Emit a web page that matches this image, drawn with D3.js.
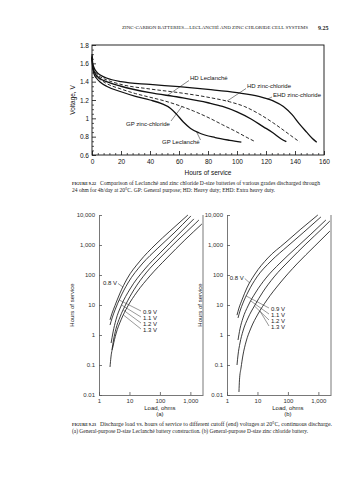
<!DOCTYPE html>
<html><head><meta charset="utf-8">
<script src="https://cdn.jsdelivr.net/npm/d3@7/dist/d3.min.js"></script>
<style>
html,body{margin:0;padding:0;background:#fff;}
svg{display:block;}
text{font-family:"Liberation Sans",Arial,sans-serif;}
</style></head><body>
<svg id="page" width="357" height="480"></svg>
<script>
// ================= DATA : Figure 9.22 =================
const hourTicks = [0, 20, 40, 60, 80, 100, 120, 140, 160];
const voltTicks = [0.6, 0.8, 1.0, 1.2, 1.4, 1.6, 1.8];
const voltTickLabels = ["0.6", "0.8", "1", "1.2", "1.4", "1.6", "1.8"];

const gpLeclancheHours = [0, 0.5, 1.5, 3, 6, 10, 20, 30, 40, 48, 54, 58, 63, 68, 74, 85, 95, 103];
const gpLeclancheVolts = [1.66, 1.55, 1.48, 1.44, 1.39, 1.35, 1.29, 1.24, 1.20, 1.16, 1.11, 1.05, 0.96, 0.89, 0.84, 0.79, 0.76, 0.74];

const gpZincChlorideHours = [0, 0.5, 1.5, 3, 6, 10, 20, 30, 40, 50, 60, 70, 80, 90, 100, 107, 112];
const gpZincChlorideVolts = [1.66, 1.56, 1.50, 1.46, 1.42, 1.38, 1.32, 1.27, 1.23, 1.19, 1.14, 1.08, 1.01, 0.93, 0.85, 0.79, 0.75];

const hdLeclancheHours = [0, 0.5, 1.5, 3, 6, 10, 20, 40, 60, 80, 90, 100, 110, 118, 125, 130, 134];
const hdLeclancheVolts = [1.67, 1.57, 1.51, 1.47, 1.43, 1.40, 1.35, 1.28, 1.23, 1.17, 1.13, 1.07, 0.99, 0.91, 0.84, 0.78, 0.745];

const hdZincChlorideHours = [0, 0.5, 1.5, 3, 6, 10, 20, 40, 60, 80, 95, 105, 115, 125, 133, 139, 143];
const hdZincChlorideVolts = [1.68, 1.58, 1.53, 1.49, 1.45, 1.42, 1.37, 1.32, 1.28, 1.23, 1.18, 1.13, 1.05, 0.95, 0.86, 0.79, 0.745];

const ehdZincChlorideHours = [0, 0.5, 1.5, 3, 6, 10, 20, 40, 60, 80, 100, 115, 125, 132, 138, 143, 148, 152, 155];
const ehdZincChlorideVolts = [1.70, 1.60, 1.55, 1.51, 1.47, 1.44, 1.40, 1.37, 1.345, 1.315, 1.28, 1.24, 1.19, 1.13, 1.04, 0.94, 0.85, 0.78, 0.74];

const topSeriesNames = ["GP Leclanché", "GP zinc-chloride", "HD Leclanché", "HD zinc-chloride", "EHD zinc-chloride"];

// ================= DATA : Figure 9.23 =================
const loadTicks = [1, 10, 100, 1000];
const loadTickLabels = ["1", "10", "100", "1,000"];
const serviceTicks = [0.01, 0.1, 1, 10, 100, 1000, 10000];
const serviceTickLabels = ["0.01", "0.1", "1", "10", "100", "1,000", "10,000"];
const cutoffLabels = ["0.8 V", "0.9 V", "1.1 V", "1.2 V", "1.3 V"];

// (a) General-purpose Leclanché
const leclancheLoad08 = [2.3, 2.7, 3.35, 4.9, 8.3, 22, 69, 213, 830];
const leclancheHours08 = [3.2, 5.4, 9.6, 25, 74, 290, 1000, 2900, 10000];
const leclancheLoad09 = [2.3, 2.7, 3.35, 4.9, 8.9, 26, 86, 290, 1040];
const leclancheHours09 = [2.15, 3.7, 6.8, 17, 54, 233, 790, 2500, 9300];
const leclancheLoad11 = [2.5, 2.9, 3.6, 5.3, 10.4, 32, 108, 360, 1300];
const leclancheHours11 = [0.54, 1.26, 3.2, 9.3, 34, 158, 580, 2000, 7400];
const leclancheLoad12 = [2.67, 3, 3.6, 4.9, 7.7, 14, 35, 116, 390, 1510, 1900];
const leclancheHours12 = [0.32, 0.68, 1.6, 4, 10.8, 32, 117, 430, 1470, 5400, 6800];
const leclancheLoad13 = [2.3, 2.47, 2.9, 3.6, 5.3, 8.9, 17.6, 47, 170, 660, 2380];
const leclancheHours13 = [0.086, 0.185, 0.43, 1.08, 3.2, 9.3, 27, 93, 370, 1470, 5000];

// (b) General-purpose zinc chloride
const zincLoad08 = [2.13, 2.47, 3.1, 4.5, 8.3, 22, 80, 267, 960];
const zincHours08 = [4.6, 7.9, 14.7, 37, 108, 370, 1170, 3400, 10000];
const zincLoad09 = [2.3, 2.67, 3.35, 4.9, 9.6, 28, 100, 335, 1210];
const zincHours09 = [3.7, 6.3, 11.7, 27, 86, 293, 930, 2700, 8600];
const zincLoad11 = [2.3, 2.67, 3.35, 4.9, 8.9, 19, 55, 183, 570, 1760];
const zincHours11 = [0.68, 1.6, 3.7, 9.3, 27, 79, 250, 790, 2300, 6800];
const zincLoad12 = [2.13, 2.3, 2.67, 3.35, 4.9, 8.3, 15, 35, 116, 390, 1400, 2380];
const zincHours12 = [0.1, 0.215, 0.54, 1.36, 3.7, 10, 27, 86, 316, 1080, 3700, 6300];
const zincLoad13 = [2.47, 2.57, 2.88, 3.35, 4.2, 6.1, 10.4, 20.5, 55, 197, 770, 2380];
const zincHours13 = [0.0126, 0.032, 0.079, 0.215, 0.585, 1.7, 5, 14.7, 54, 233, 930, 2900];

// ================= DRAWING =================
const svg = d3.select("#page");
const zip = (a, b) => a.map((v, i) => [v, b[i]]);
const INK = "#111";

// ---- running header ----
svg.append("text").attr("x", 122).attr("y", 29)
  .style("font-family", "'Liberation Serif', serif").style("font-size", "5px").attr("fill", "#222")
  .attr("textLength", 186).attr("lengthAdjust", "spacingAndGlyphs")
  .text("ZINC-CARBON BATTERIES—LECLANCHÉ AND ZINC CHLORIDE CELL SYSTEMS");
svg.append("text").attr("x", 318).attr("y", 29.5)
  .style("font-family", "'Liberation Serif', serif").style("font-size", "6px").style("font-weight", "bold").attr("fill", "#222")
  .text("9.25");

// ---- Figure 9.22 ----
const xT = d3.scaleLinear().domain([0, 160]).range([92, 324]);
const yT = d3.scaleLinear().domain([0.6, 1.8]).range([155, 45]);
const gT = svg.append("g");

gT.append("rect").attr("x", xT(0)).attr("y", yT(1.8))
  .attr("width", xT(160) - xT(0)).attr("height", yT(0.6) - yT(1.8))
  .attr("fill", "none").attr("stroke", INK).attr("stroke-width", 0.9);

// minor ticks
const minorH = d3.range(0, 161, 4).filter(v => v % 20 !== 0);
const minorV = d3.range(13, 36).map(k => k * 0.05).filter(v => Math.round(v * 100) % 20 !== 0);
gT.append("g").attr("transform", `translate(0,${yT(0.6)})`)
  .call(d3.axisBottom(xT).tickValues(minorH).tickSize(-2).tickFormat(""))
  .call(g => g.select(".domain").remove())
  .call(g => g.selectAll("line").attr("stroke", INK).attr("stroke-width", 0.7));
gT.append("g").attr("transform", `translate(${xT(0)},0)`)
  .call(d3.axisLeft(yT).tickValues(minorV).tickSize(-2).tickFormat(""))
  .call(g => g.select(".domain").remove())
  .call(g => g.selectAll("line").attr("stroke", INK).attr("stroke-width", 0.7));

const axXT = gT.append("g").attr("transform", `translate(0,${yT(0.6)})`)
  .call(d3.axisBottom(xT).tickValues(hourTicks).tickSize(-4).tickPadding(4).tickFormat(d => String(d)));
axXT.select(".domain").remove();
axXT.selectAll("line").attr("stroke", INK).attr("stroke-width", 0.8);
axXT.selectAll("text").style("font-size", "6.5px").style("font-family", "'Liberation Sans',Arial,sans-serif").attr("fill", INK);

const axYT = gT.append("g").attr("transform", `translate(${xT(0)},0)`)
  .call(d3.axisLeft(yT).tickValues(voltTicks).tickSize(-4).tickPadding(3).tickFormat((d, i) => voltTickLabels[i]));
axYT.select(".domain").remove();
axYT.selectAll("line").attr("stroke", INK).attr("stroke-width", 0.8);
axYT.selectAll("text").style("font-size", "6.5px").style("font-family", "'Liberation Sans',Arial,sans-serif").attr("fill", INK);

gT.append("text").attr("x", (xT(0) + xT(160)) / 2).attr("y", 174.5).attr("text-anchor", "middle")
  .style("font-size", "6.5px").attr("fill", INK).text("Hours of service");
gT.append("text").attr("transform", `translate(75,${(yT(0.6) + yT(1.8)) / 2}) rotate(-90)`).attr("text-anchor", "middle")
  .style("font-size", "6.5px").attr("fill", INK).text("Voltage, V");

const topSeries = [
  { name: topSeriesNames[0], pts: zip(gpLeclancheHours, gpLeclancheVolts), dashed: false },
  { name: topSeriesNames[1], pts: zip(gpZincChlorideHours, gpZincChlorideVolts), dashed: true },
  { name: topSeriesNames[2], pts: zip(hdLeclancheHours, hdLeclancheVolts), dashed: false },
  { name: topSeriesNames[3], pts: zip(hdZincChlorideHours, hdZincChlorideVolts), dashed: true },
  { name: topSeriesNames[4], pts: zip(ehdZincChlorideHours, ehdZincChlorideVolts), dashed: false }
];
const lineT = d3.line().x(d => xT(d[0])).y(d => yT(d[1])).curve(d3.curveMonotoneX);
gT.selectAll("path.curve").data(topSeries).join("path").attr("class", "curve")
  .attr("d", d => lineT(d.pts)).attr("fill", "none").attr("stroke", INK)
  .attr("stroke-width", d => d.dashed ? 0.9 : 1.3)
  .attr("stroke-dasharray", d => d.dashed ? "3.5,2" : null);

// labels with leader lines (tip placed on curve at given hour)
const voltAt = (s, h) => d3.scaleLinear().domain(s.pts.map(p => p[0])).range(s.pts.map(p => p[1]))(h);
const topNotes = [
  { s: 2, tipH: 52, tx: 190, ty: 78, lx: 189, ly: 80.5 },
  { s: 3, tipH: 93, tx: 247, ty: 86, lx: 246, ly: 88.5 },
  { s: 4, tipH: 121, tx: 273, ty: 95, lx: 272, ly: 97 },
  { s: 1, tipH: 62, tx: 126, ty: 124, lx: 171, ly: 121 },
  { s: 0, tipH: 72, tx: 162, ty: 142, lx: 200.5, ly: 140 }
];
topNotes.forEach(n => {
  const s = topSeries[n.s];
  gT.append("line").attr("x1", n.lx).attr("y1", n.ly)
    .attr("x2", xT(n.tipH)).attr("y2", yT(voltAt(s, n.tipH)))
    .attr("stroke", INK).attr("stroke-width", 0.5);
  gT.append("text").attr("x", n.tx).attr("y", n.ty).attr("dy", "0.35em")
    .style("font-size", "6px").attr("fill", INK).text(s.name);
});

// captions
const serif = "'Liberation Serif','Times New Roman',serif";
function caption(y, fig, rest, restLen, line2, line2Len) {
  svg.append("text").attr("x", 72).attr("y", y).style("font-family", serif).style("font-size", "4.6px")
    .style("font-weight", "bold").attr("fill", "#222").attr("textLength", 24).attr("lengthAdjust", "spacingAndGlyphs").text(fig);
  svg.append("text").attr("x", 100).attr("y", y).style("font-family", serif).style("font-size", "5.2px")
    .attr("fill", "#222").attr("textLength", restLen).attr("lengthAdjust", "spacingAndGlyphs").text(rest);
  svg.append("text").attr("x", 72).attr("y", y + 7).style("font-family", serif).style("font-size", "5.2px")
    .attr("fill", "#222").attr("textLength", line2Len).attr("lengthAdjust", "spacingAndGlyphs").text(line2);
}
caption(185, "FIGURE 9.22", "Comparison of Leclanché and zinc chloride D-size batteries of various grades discharged through", 220,
  "24 ohm for 4h/day at 20°C. GP: General purpose; HD: Heavy duty; EHD: Extra heavy duty.", 203);

// ---- Figure 9.23 ----
const yB = d3.scaleLog().domain([0.01, 10000]).range([395, 215]);
const GRAYAX = "#555", CURVE = "#1a1a1a";

function logChart(x0, curves, panel, notes08, notes) {
  const x = d3.scaleLog().domain([1, 2600]).range([x0, x0 + 104]);
  const g = svg.append("g");
  const ax = g.append("g").attr("transform", `translate(${x0},0)`)
    .call(d3.axisLeft(yB).tickValues(serviceTicks).tickSize(-3).tickSizeOuter(0).tickPadding(4)
      .tickFormat((d, i) => serviceTickLabels[i]));
  const bx = g.append("g").attr("transform", `translate(0,${yB(0.01)})`)
    .call(d3.axisBottom(x).tickValues(loadTicks).tickSize(-3).tickSizeOuter(0).tickPadding(4)
      .tickFormat((d, i) => loadTickLabels[i]));
  [ax, bx].forEach(a => {
    a.selectAll("path,line").attr("stroke", GRAYAX).attr("stroke-width", 0.8);
    a.selectAll("text").style("font-size", "6px").style("font-family", "'Liberation Sans',Arial,sans-serif").attr("fill", "#333");
  });
  g.append("line").attr("x1", x(2600)).attr("x2", x(2600)).attr("y1", yB(0.01)).attr("y2", yB(10000))
    .attr("stroke", GRAYAX).attr("stroke-width", 0.8);

  const line = d3.line().x(d => x(d[0])).y(d => yB(d[1])).curve(d3.curveMonotoneX);
  g.selectAll("path.c").data(curves).join("path").attr("class", "c")
    .attr("d", d => line(d)).attr("fill", "none").attr("stroke", CURVE).attr("stroke-width", 0.85);

  const xAtY = (pts, yv) => {
    const p = pts.map(d => [x(d[0]), yB(d[1])]);
    for (let i = 0; i < p.length - 1; i++) {
      if ((p[i][1] - yv) * (p[i + 1][1] - yv) <= 0) {
        const t = (yv - p[i][1]) / (p[i + 1][1] - p[i][1]);
        return p[i][0] + t * (p[i + 1][0] - p[i][0]);
      }
    }
    return p[0][0];
  };
  const tip08x = xAtY(curves[0], notes08.tipY);
  g.append("text").attr("x", tip08x - notes08.gap).attr("y", notes08.ty).attr("dy", "0.35em").attr("text-anchor", "end")
    .style("font-size", "6px").attr("fill", "#222").text(cutoffLabels[0]);
  g.append("line").attr("x1", tip08x - notes08.gap + 1).attr("y1", notes08.ty + 0.5)
    .attr("x2", tip08x).attr("y2", notes08.tipY).attr("stroke", "#333").attr("stroke-width", 0.5);
  notes.forEach((n, i) => {
    const c = curves[i + 1];
    g.append("text").attr("x", x0 + 44).attr("y", n.ty).attr("dy", "0.35em")
      .style("font-size", "6px").attr("fill", "#222").text(cutoffLabels[i + 1]);
    g.append("line").attr("x1", x0 + 42).attr("y1", n.ty - 1)
      .attr("x2", xAtY(c, n.tipY)).attr("y2", n.tipY).attr("stroke", "#333").attr("stroke-width", 0.5);
  });

  g.append("text").attr("x", x(100)).attr("y", 409.5).attr("text-anchor", "middle")
    .style("font-size", "6px").attr("fill", "#222").text("Load, ohms");
  g.append("text").attr("x", x(100)).attr("y", 416).attr("text-anchor", "middle")
    .style("font-size", "6px").attr("fill", "#222").text(panel);
  g.append("text").attr("transform", `translate(${x0 - 25},305) rotate(-90)`).attr("text-anchor", "middle")
    .style("font-size", "6px").attr("fill", "#222").text("Hours of service");
}

logChart(99, [
  zip(leclancheLoad08, leclancheHours08), zip(leclancheLoad09, leclancheHours09), zip(leclancheLoad11, leclancheHours11),
  zip(leclancheLoad12, leclancheHours12), zip(leclancheLoad13, leclancheHours13)
], "(a)", { tipY: 287, ty: 283, gap: 6 },
  [{ ty: 312, tipY: 300 }, { ty: 318, tipY: 305 }, { ty: 324, tipY: 310 }, { ty: 330, tipY: 315 }]);

logChart(227, [
  zip(zincLoad08, zincHours08), zip(zincLoad09, zincHours09), zip(zincLoad11, zincHours11),
  zip(zincLoad12, zincHours12), zip(zincLoad13, zincHours13)
], "(b)", { tipY: 283, ty: 278, gap: 6 },
  [{ ty: 309, tipY: 296 }, { ty: 315, tipY: 301 }, { ty: 321, tipY: 306 }, { ty: 327, tipY: 311 }]);

caption(426, "FIGURE 9.23", "Discharge load vs. hours of service to different cutoff (end) voltages at 20°C, continuous discharge.", 232,
  "(a) General-purpose D-size Leclanché battery construction. (b) General-purpose D-size zinc chloride battery.", 236);
</script>
</body></html>
